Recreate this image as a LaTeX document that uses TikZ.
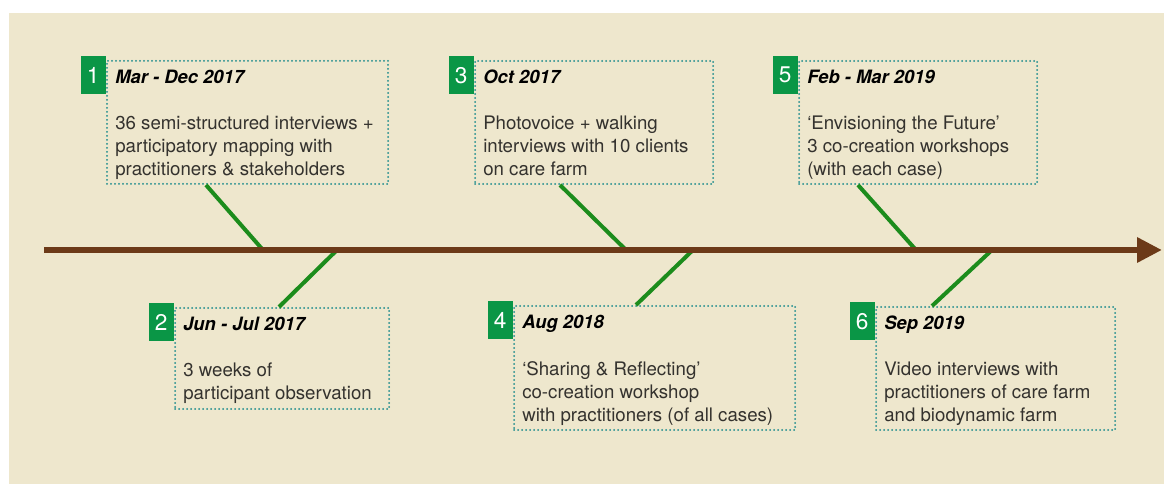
\documentclass[tikz,border=0pt]{standalone}
\usepackage{fontspec}
\setmainfont{TeX Gyre Heros}
\usetikzlibrary{arrows.meta,positioning,calc}
\definecolor{paper}{RGB}{238,231,205}
\definecolor{axisbrown}{RGB}{108,58,24}
\definecolor{stemgreen}{RGB}{28,140,28}
\definecolor{numgreen}{RGB}{10,150,70}
\definecolor{dotteal}{RGB}{26,138,140}
\definecolor{inkgrey}{RGB}{52,50,46}
\tikzset{
  phasebox/.style={draw=dotteal, line width=1.5pt, line cap=round, dash pattern=on 0pt off 3pt,
    anchor=north west, inner sep=0pt},
  numbox/.style={fill=numgreen, text=white, anchor=north east, inner sep=0pt,
    minimum width=18.75pt, minimum height=28.5pt, font=\fontsize{17}{17}\selectfont},
  datelabel/.style={anchor=base west, inner sep=0pt,
    font=\fontsize{13.8}{16}\selectfont\bfseries\itshape},
  phasetext/.style={anchor=north west, inner sep=0pt, align=left, text=inkgrey,
    font=\fontsize{14}{17.25}\selectfont},
  stem/.style={draw=stemgreen, line width=3pt},
  timeline/.style={draw=axisbrown, line width=5pt,
    -{Triangle[length=18.75pt, width=18pt]}},
}
% name, x, y, width, height, number, date, text
\newcommand{\phase}[8]{%
  \node[phasebox, minimum width=#4*0.75pt, minimum height=#5*0.75pt] (#1) at (#2,#3) {};
  \node[numbox] (#1num) at ([yshift=3pt]#1.north west) {#6};
  \node[datelabel] (#1date) at ([xshift=6.75pt,yshift=-18pt]#1.north west) {#7};
  \node[phasetext] (#1text) at ([xshift=6.75pt,yshift=-42pt]#1.north west) {#8};
}
\begin{document}
\begin{tikzpicture}[x=0.75pt, y=-0.75pt]
  \fill[white] (0,0) rectangle (1164,484);
  \fill[paper] (9,13) rectangle (1164,484);
  \useasboundingbox (0,0) rectangle (1164,484);

  \phase{p1}{106}{60}{281}{123}{1}{Mar - Dec 2017}{36 semi-structured interviews +\\participatory mapping with\\practitioners \& stakeholders}
  \phase{p2}{174}{307}{214}{101}{2}{Jun - Jul 2017}{3 weeks of\\participant observation}
  \phase{p3}{474}{60}{238}{123}{3}{Oct 2017}{Photovoice + walking\\interviews with 10 clients\\on care farm}
  \phase{p4}{513}{305}{281}{124}{4}{Aug 2018}{‘Sharing \& Reflecting’\\co-creation workshop\\with practitioners (of all cases)}
  \phase{p5}{798}{60}{238}{123}{5}{Feb - Mar 2019}{‘Envisioning the Future’\\3 co-creation workshops\\(with each case)}
  \phase{p6}{875}{306}{239}{123}{6}{Sep 2019}{Video interviews with\\practitioners of care farm\\and biodynamic farm}

  % points on the time axis
  \coordinate (start) at (44,250);
  \coordinate (end) at (1162,250);
  \coordinate (t1) at (263,250);
  \coordinate (t2) at (337,250);
  \coordinate (t3) at (626,250);
  \coordinate (t4) at (693,250);
  \coordinate (t5) at (916,250);
  \coordinate (t6) at (992,250);

  \draw[stem] (p1.south west -| 206,0) -- (t1);
  \draw[stem] (p2.north west -| 279,0) -- (t2);
  \draw[stem] (p3.south west -| 560,0) -- (t3);
  \draw[stem] (p4.north west -| 636,0) -- (t4);
  \draw[stem] (p5.south west -| 858,0) -- (t5);
  \draw[stem] (p6.north west -| 932,0) -- (t6);

  \draw[timeline] (start) -- (end);
\end{tikzpicture}
\end{document}
